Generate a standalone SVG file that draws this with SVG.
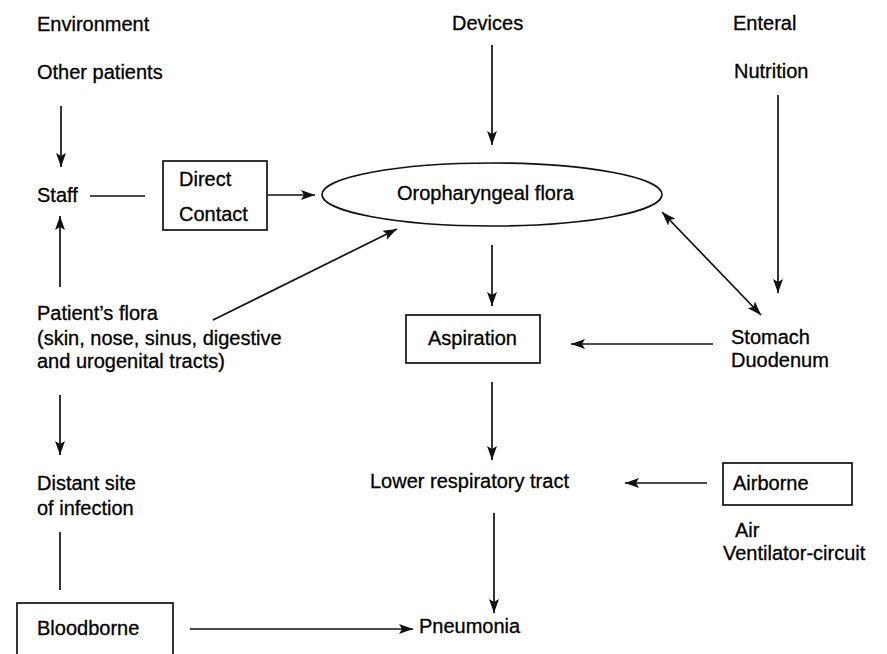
<svg xmlns="http://www.w3.org/2000/svg" width="887" height="654" viewBox="0 0 887 654">
<style>
text{font-family:"Liberation Sans",Arial,sans-serif;font-size:20px;fill:#000;stroke:#000;stroke-width:0.3}
.box{fill:none;stroke:#111;stroke-width:1.7}
.c{stroke:#111;stroke-width:1.7;fill:none}
.a{marker-end:url(#ah)}
.d{marker-start:url(#ah);marker-end:url(#ah)}
</style>
<defs>
<marker id="ah" markerUnits="userSpaceOnUse" markerWidth="16" markerHeight="12" refX="14" refY="5" orient="auto-start-reverse">
<path d="M0,0 L14,5 L0,10 L3,5 z" fill="#111"/>
</marker>
</defs>
<g id="environment"><text x="37" y="31">Environment</text></g>
<g id="other-patients"><text x="37" y="79">Other patients</text></g>
<g id="staff"><text x="37" y="202">Staff</text></g>
<g id="devices"><text x="452" y="30">Devices</text></g>
<g id="enteral"><text x="733" y="30">Enteral</text></g>
<g id="nutrition"><text x="734" y="78">Nutrition</text></g>
<g id="direct-contact"><rect class="box" x="163" y="161" width="104" height="69"/><text x="179" y="186">Direct</text><text x="179" y="221">Contact</text></g>
<g id="oropharyngeal"><ellipse class="box" cx="492" cy="194.5" rx="170" ry="31.5"/><text x="397" y="200">Oropharyngeal flora</text></g>
<g id="patients-flora"><text x="37" y="320">Patient’s flora</text><text x="37" y="345">(skin, nose, sinus, digestive</text><text x="37" y="368">and urogenital tracts)</text></g>
<g id="aspiration"><rect class="box" x="406" y="315" width="134" height="48"/><text x="428" y="345">Aspiration</text></g>
<g id="stomach"><text x="731" y="344">Stomach</text><text x="731" y="367">Duodenum</text></g>
<g id="distant-site"><text x="37" y="490">Distant site</text><text x="37" y="515">of infection</text></g>
<g id="lower-respiratory"><text x="370" y="488">Lower respiratory tract</text></g>
<g id="airborne"><rect class="box" x="723" y="463" width="129" height="42"/><text x="733" y="490">Airborne</text></g>
<g id="air"><text x="735" y="537">Air</text><text x="723" y="560">Ventilator-circuit</text></g>
<g id="bloodborne"><rect class="box" x="17" y="603" width="156" height="60"/><text x="37" y="635">Bloodborne</text></g>
<g id="pneumonia"><text x="419" y="633">Pneumonia</text></g>
<g id="connectors">
<line class="c a" x1="61" y1="106" x2="61" y2="167"/>
<line class="c" x1="90" y1="196" x2="145" y2="196"/>
<line class="c a" x1="268" y1="195" x2="315" y2="195"/>
<line class="c a" x1="492" y1="45" x2="492" y2="145"/>
<line class="c a" x1="60" y1="287" x2="60" y2="216"/>
<line class="c a" x1="213" y1="320" x2="397" y2="229"/>
<line class="c a" x1="492" y1="245" x2="492" y2="306"/>
<line class="c d" x1="662" y1="212" x2="761" y2="315"/>
<line class="c a" x1="778" y1="95" x2="778" y2="293"/>
<line class="c a" x1="713" y1="344" x2="571" y2="344"/>
<line class="c a" x1="60" y1="395" x2="60" y2="455"/>
<line class="c a" x1="492" y1="382" x2="492" y2="460"/>
<line class="c a" x1="707" y1="483" x2="625" y2="483"/>
<line class="c a" x1="494" y1="513" x2="494" y2="613"/>
<line class="c" x1="60" y1="532" x2="60" y2="590"/>
<line class="c a" x1="190" y1="629" x2="413" y2="629"/>
</g>
</svg>
